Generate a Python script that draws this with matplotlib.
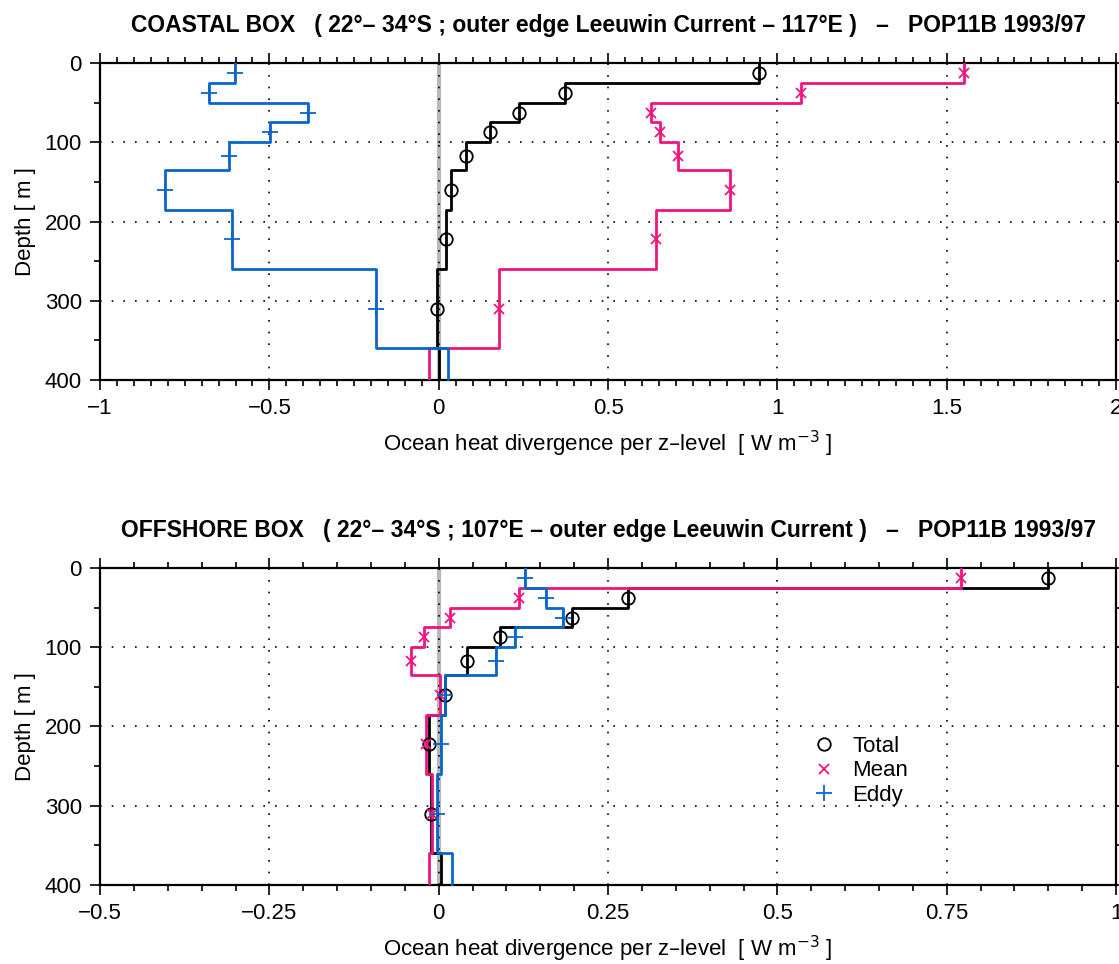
import matplotlib
matplotlib.use("Agg")
import matplotlib.pyplot as plt
import numpy as np
from matplotlib.ticker import MultipleLocator

# depth level edges [m]
edges = [0, 25, 50, 75, 100, 135, 185, 260, 360, 460]

# coastal box
coast_total = [0.945, 0.374, 0.238, 0.152, 0.081, 0.037, 0.021, -0.006, 0.0]
coast_mean = [1.551, 1.071, 0.627, 0.654, 0.707, 0.859, 0.641, 0.178, -0.028]
coast_eddy = [-0.601, -0.678, -0.385, -0.497, -0.619, -0.808, -0.609, -0.185, 0.028]

# offshore box
off_total = [0.900, 0.280, 0.197, 0.090, 0.042, 0.009, -0.014, -0.012, 0.004]
off_mean = [0.771, 0.119, 0.017, -0.022, -0.041, 0.002, -0.019, -0.010, -0.014]
off_eddy = [0.127, 0.159, 0.183, 0.113, 0.085, 0.009, 0.004, -0.002, 0.019]

titles = ["COASTAL BOX   ( 22\u00b0\u2013 34\u00b0S ; outer edge Leeuwin Current \u2013 117\u00b0E )   \u2013   POP11B 1993/97",
          "OFFSHORE BOX   ( 22\u00b0\u2013 34\u00b0S ; 107\u00b0E \u2013 outer edge Leeuwin Current )   \u2013   POP11B 1993/97"]

plt.rcParams['font.family'] = ['Liberation Sans', 'DejaVu Sans']

BLUE = '#0a66cc'
PINK = '#f0147f'

fig = plt.figure(figsize=(11.19, 9.64), dpi=100)
ax1 = fig.add_axes([0.0894, 0.6058, 0.908, 0.3288])
ax2 = fig.add_axes([0.0894, 0.0820, 0.908, 0.3288])

z = np.array(edges, dtype=float)
zs = np.column_stack([z[:-1], z[1:]]).ravel()
zmid = (z[:-1] + z[1:]) / 2


def draw(ax, total, mean, eddy, xlim, xmaj, title, legend=False):
    ax.axvline(0, color='#b8b8b8', lw=3, zorder=1)
    for vals, col, mk, ms, lab in [(total, 'black', 'o', 9, 'Total'),
                                   (mean, PINK, 'x', 7, 'Mean'),
                                   (eddy, BLUE, '+', 11, 'Eddy')]:
        v = np.array(vals)
        ax.plot(np.repeat(v, 2), zs, color=col, lw=2, zorder=3)
        ax.plot(v, zmid, ls='none', marker=mk, ms=ms, mfc='none', mec=col,
                mew=1.3, zorder=4, label=lab)
    ax.set_xlim(*xlim)
    ax.set_ylim(400, 0)
    ax.xaxis.set_major_locator(MultipleLocator(xmaj))
    ax.xaxis.set_minor_locator(MultipleLocator(0.05))
    ax.yaxis.set_major_locator(MultipleLocator(100))
    ax.yaxis.set_minor_locator(MultipleLocator(50))
    ax.tick_params(which='both', direction='out', top=True, right=True,
                   labelsize=16, width=1.2)
    ax.tick_params(which='major', length=7, pad=6)
    ax.tick_params(which='minor', length=4)
    ax.grid(True, which='major', color='black', ls=(0, (1, 6)), lw=1.2)
    for s in ax.spines.values():
        s.set_linewidth(1.6)
    ax.set_ylabel("Depth [ m ]", fontsize=16, labelpad=6)
    ax.set_xlabel("Ocean heat divergence per z\u2013level  [ W m$^{-3}$ ]",
                  fontsize=16, labelpad=7)
    ax.set_title(title, fontsize=16.5, fontweight='bold', pad=22)
    if legend:
        ax.legend(loc='upper left', bbox_to_anchor=(0.688, 0.505), frameon=False,
                  fontsize=16, handlelength=1.2, handletextpad=0.7,
                  labelspacing=0.15, borderpad=0)


draw(ax1, coast_total, coast_mean, coast_eddy, (-1, 2), 0.5, titles[0])
draw(ax2, off_total, off_mean, off_eddy, (-0.5, 1), 0.25, titles[1], legend=True)
ax2.set_xticks([-0.5, -0.25, 0, 0.25, 0.5, 0.75, 1])
ax2.set_xticklabels(['\u22120.5', '\u22120.25', '0', '0.25', '0.5', '0.75', '1'])
ax1.set_xticks([-1, -0.5, 0, 0.5, 1, 1.5, 2])
ax1.set_xticklabels(['\u22121', '\u22120.5', '0', '0.5', '1', '1.5', '2'])

fig.savefig("out.png", dpi=100)
